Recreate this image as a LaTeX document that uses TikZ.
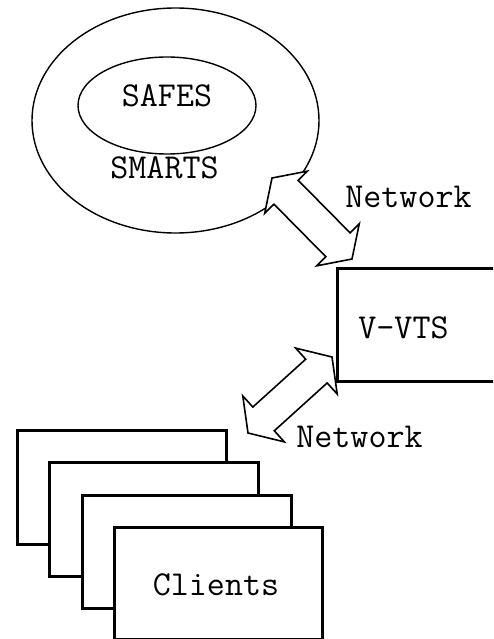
\documentclass[tikz,border=0pt]{standalone}
\usetikzlibrary{shapes.geometric,calc}
\newcommand\dblockarrow[5]{% #1 tip A, #2 tip B, #3 shaft half width, #4 head half width, #5 head length
  \path ($(#1)!#5!(#2)$) coordinate (#1-h) ($(#2)!#5!(#1)$) coordinate (#2-h);
  \draw[blockarrow] (#1) -- ($(#1-h)!#4!90:(#2)$) -- ($(#1-h)!#3!90:(#2)$)
    -- ($(#2-h)!#3!-90:(#1)$) -- ($(#2-h)!#4!-90:(#1)$) -- (#2)
    -- ($(#2-h)!#4!90:(#1)$) -- ($(#2-h)!#3!90:(#1)$)
    -- ($(#1-h)!#3!-90:(#2)$) -- ($(#1-h)!#4!-90:(#2)$) -- cycle;
}
\begin{document}
\begin{tikzpicture}[x=1pt,y=-1pt,
  txt/.style={font=\ttfamily\fontsize{35}{40}\selectfont, inner sep=0pt},
  ring/.style={draw, ellipse, line width=1.4pt, inner sep=0pt},
  panel/.style={draw, fill=white, line width=2.6pt, rectangle, inner sep=0pt, anchor=north west},
  blockarrow/.style={draw, fill=white, line width=1.6pt, line join=miter}]
\useasboundingbox (0,0) rectangle (493,639);
\clip (0,0) rectangle (493,639);

% SMARTS / SAFES
\node[ring, minimum width=287pt, minimum height=225pt] (outer) at (175.5,120.5) {};
\node[ring, minimum width=178pt, minimum height=97pt] (inner) at (167,105.5) {};
\node[txt] (safes) at (167,96) {SAFES};
\node[txt] (smarts) at (164.5,168) {SMARTS};

% V-VTS
\node[panel, minimum width=170pt, minimum height=113pt] (vvts) at (336,267) {};
\node[txt] (vvtstext) at (403.5,328) {V-VTS};

% Clients stack
\node[panel, minimum width=209pt, minimum height=114pt] (c1) at (16,429) {};
\node[panel, minimum width=209pt, minimum height=114pt] (c2) at (48,461) {};
\node[panel, minimum width=209pt, minimum height=113pt] (c3) at (81,494) {};
\node[panel, minimum width=208pt, minimum height=112pt] (c4) at (113,526) {};
\node[txt] (clients) at (216,585) {Clients};

% Network arrows
\coordinate (t1a) at (272,178);
\coordinate (t1b) at (352,259);
\coordinate (t2a) at (332,357);
\coordinate (t2b) at (248,433);
\dblockarrow{t1a}{t1b}{17pt}{30pt}{20pt}
\dblockarrow{t2a}{t2b}{16pt}{31pt}{21pt}
\node[txt] (net1) at (408.5,197) {Network};
\node[txt] (net2) at (359.5,437) {Network};
\end{tikzpicture}
\end{document}
